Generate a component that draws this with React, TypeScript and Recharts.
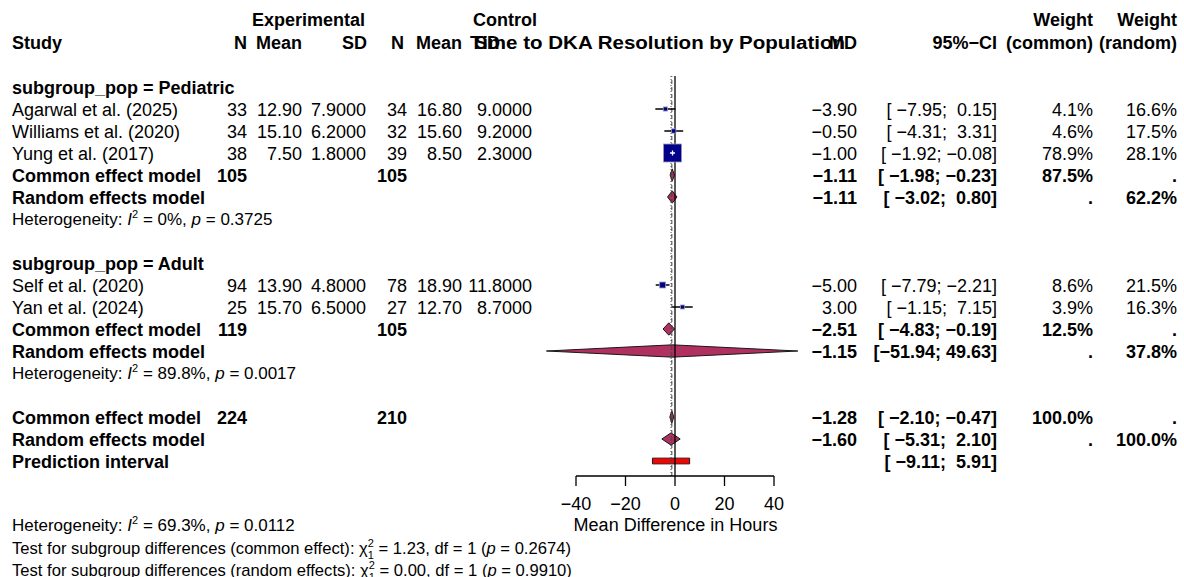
import React from "react";
import {
  ComposedChart,
  Scatter,
  XAxis,
  YAxis,
  ZAxis,
  ErrorBar,
  ReferenceLine,
  ReferenceArea,
} from "recharts";

const FONT = '"Liberation Sans", Arial, Helvetica, sans-serif';

// individual studies
const studyNames = ["Agarwal et al. (2025)", "Williams et al. (2020)", "Yung et al. (2017)", "Self et al. (2020)", "Yan et al. (2024)"];
const studyRows = [1, 2, 3, 9, 10];
const expN = ["33", "34", "38", "94", "25"];
const expMean = ["12.90", "15.10", "7.50", "13.90", "15.70"];
const expSD = ["7.9000", "6.2000", "1.8000", "4.8000", "6.5000"];
const ctlN = ["34", "32", "39", "78", "27"];
const ctlMean = ["16.80", "15.60", "8.50", "18.90", "12.70"];
const ctlSD = ["9.0000", "9.2000", "2.3000", "11.8000", "8.7000"];
const studyMD = [-3.9, -0.5, -1.0, -5.0, 3.0];
const studyLo = [-7.95, -4.31, -1.92, -7.79, -1.15];
const studyHi = [0.15, 3.31, -0.08, -2.21, 7.15];
const weightCommon = [4.1, 4.6, 78.9, 8.6, 3.9];
const weightRandom = [16.6, 17.5, 28.1, 21.5, 16.3];

// pooled estimates
const sumLabels = ["Common effect model", "Random effects model", "Common effect model", "Random effects model", "Common effect model", "Random effects model"];
const sumRows = [4, 5, 11, 12, 15, 16];
const sumExpN = ["105", "", "119", "", "224", ""];
const sumCtlN = ["105", "", "105", "", "210", ""];
const sumMD = [-1.11, -1.11, -2.51, -1.15, -1.28, -1.6];
const sumLo = [-1.98, -3.02, -4.83, -51.94, -2.1, -5.31];
const sumHi = [-0.23, 0.8, -0.19, 49.63, -0.47, 2.1];
const sumWc = ["87.5%", ".", "12.5%", ".", "100.0%", "."];
const sumWr = [".", "62.2%", ".", "37.8%", ".", "100.0%"];

const predRow = 17;
const predLo = -9.11;
const predHi = 5.91;

const groupLabels = ["subgroup_pop = Pediatric", "subgroup_pop = Adult"];
const groupRows = [0, 8];
const hetRows = [6, 13];
const hetI2 = ["0%", "89.8%"];
const hetP = ["0.3725", "0.0017"];

const xTicks = [-40, -20, 0, 20, 40];

const ROW_TOP = 87;
const ROW_H = 22;
const rowY = (k: number) => ROW_TOP + ROW_H * k;
const Y_DOMAIN: [number, number] = [-0.5, (476 - ROW_TOP) / ROW_H];

const minus = (s: string) => s.replace(/-/g, "\u2212");
const fmt = (v: number) => minus(v.toFixed(2));
const pad = (s: string, n: number) => s.padStart(n, " ");
const fmtCI = (lo: number, hi: number) => `[${pad(fmt(lo), 6)}; ${pad(fmt(hi), 5)}]`;

const studyData = studyNames.map((name, i) => ({
  name,
  md: studyMD[i],
  row: studyRows[i],
  w: weightCommon[i],
  err: [studyMD[i] - studyLo[i], studyHi[i] - studyMD[i]],
  plus: studyHi[i] - studyLo[i] < 3,
}));

const Square = (p: any) => {
  const side = p.size != null ? Math.sqrt(p.size) : (p.width || 0) * 0.886;
  const { cx, cy } = p;
  return (
    <g>
      <rect x={cx - side / 2} y={cy - side / 2} width={side} height={side} fill="#00008B" stroke="#9a9ab4" strokeWidth={0.8} />
      {p.payload && p.payload.plus && (
        <g stroke="#fff" strokeWidth={1.3}>
          <line x1={cx - 2.5} x2={cx + 2.5} y1={cy} y2={cy} />
          <line x1={cx} x2={cx} y1={cy - 2.5} y2={cy + 2.5} />
        </g>
      )}
    </g>
  );
};

const diamondShape = (lo: number, hi: number, est: number) => (p: any) => {
  const { x, y, width, height } = p;
  const xe = x + (width * (est - lo)) / (hi - lo);
  const pts = [
    [x, y + height / 2],
    [xe, y],
    [x + width, y + height / 2],
    [xe, y + height],
  ]
    .map((q) => q.join(","))
    .join(" ");
  return <polygon points={pts} fill="#B03060" stroke="#1a1a1a" strokeWidth={1} />;
};

type TProps = {
  x: number;
  y: number;
  anchor?: "start" | "end" | "middle";
  bold?: boolean;
  size?: number;
  children: React.ReactNode;
};

const T = ({ x, y, anchor = "start", bold = false, size = 18, children }: TProps) => (
  <text
    x={x}
    y={y}
    textAnchor={anchor}
    fontWeight={bold ? "bold" : "normal"}
    fontSize={size}
    fontFamily={FONT}
    fill="#000"
    xmlSpace="preserve"
    style={{ whiteSpace: "pre" }}
  >
    {children}
  </text>
);

const COL = { study: 12, eN: 247, eMean: 302, eSD: 366, cN: 407, cMean: 462, cSD: 532, md: 857, ci: 997, wc: 1093, wr: 1177 };
const BASE = 6.5;
const SMALL = 17;

const Het = ({ y, i2, p }: { y: number; i2: string; p: string }) => (
  <T x={12} y={y} size={SMALL}>
    {"Heterogeneity: "}
    <tspan fontStyle="italic">I</tspan>
    <tspan dy={-7} fontSize={11}>2</tspan>
    <tspan dy={7}>{` = ${i2}, `}</tspan>
    <tspan fontStyle="italic">p</tspan>
    {` = ${p}`}
  </T>
);

const SubTest = ({ y, kind, chi, p }: { y: number; kind: string; chi: string; p: string }) => (
  <T x={12} y={y} size={16.6}>
    {`Test for subgroup differences (${kind}): \u03c7`}
    <tspan dy={-7} fontSize={11}>2</tspan>
    <tspan dx={-6.1} dy={12} fontSize={11}>1</tspan>
    <tspan dy={-5}>{` = ${chi}, df = 1 (`}</tspan>
    <tspan fontStyle="italic">p</tspan>
    {` = ${p})`}
  </T>
);

const TableText = () => (
  <svg width={1184} height={577} style={{ position: "absolute", left: 0, top: 0, pointerEvents: "none" }}>
    {/* headings */}
    <T x={365} y={26} anchor="end" bold>Experimental</T>
    <T x={537} y={26} anchor="end" bold>Control</T>
    <T x={1093} y={26} anchor="end" bold>Weight</T>
    <T x={1177} y={26} anchor="end" bold>Weight</T>
    <T x={12} y={48.5} bold>Study</T>
    <T x={247} y={48.5} anchor="end" bold>N</T>
    <T x={302} y={48.5} anchor="end" bold>Mean</T>
    <T x={367} y={48.5} anchor="end" bold>SD</T>
    <T x={404} y={48.5} anchor="end" bold>N</T>
    <T x={462} y={48.5} anchor="end" bold>Mean</T>
    <T x={500} y={48.5} anchor="end" bold>SD</T>
    <text x={470} y={48.5} fontWeight="bold" fontSize={18} fontFamily={FONT} textLength={375} lengthAdjust="spacingAndGlyphs">
      Time to DKA Resolution by Population
    </text>
    <T x={857} y={48.5} anchor="end" bold>MD</T>
    <T x={997} y={48.5} anchor="end" bold>{"95%\u2212CI"}</T>
    <T x={1093} y={48.5} anchor="end" bold>(common)</T>
    <T x={1177} y={48.5} anchor="end" bold>(random)</T>

    {groupLabels.map((g, i) => (
      <T key={g} x={COL.study} y={rowY(groupRows[i]) + BASE} bold>{g}</T>
    ))}

    {studyNames.map((s, i) => {
      const y = rowY(studyRows[i]) + BASE;
      return (
        <g key={s}>
          <T x={COL.study} y={y}>{s}</T>
          <T x={COL.eN} y={y} anchor="end">{expN[i]}</T>
          <T x={COL.eMean} y={y} anchor="end">{expMean[i]}</T>
          <T x={COL.eSD} y={y} anchor="end">{expSD[i]}</T>
          <T x={COL.cN} y={y} anchor="end">{ctlN[i]}</T>
          <T x={COL.cMean} y={y} anchor="end">{ctlMean[i]}</T>
          <T x={COL.cSD} y={y} anchor="end">{ctlSD[i]}</T>
          <T x={COL.md} y={y} anchor="end">{fmt(studyMD[i])}</T>
          <T x={COL.ci} y={y} anchor="end">{fmtCI(studyLo[i], studyHi[i])}</T>
          <T x={COL.wc} y={y} anchor="end">{weightCommon[i].toFixed(1) + "%"}</T>
          <T x={COL.wr} y={y} anchor="end">{weightRandom[i].toFixed(1) + "%"}</T>
        </g>
      );
    })}

    {sumLabels.map((s, i) => {
      const y = rowY(sumRows[i]) + BASE;
      return (
        <g key={i}>
          <T x={COL.study} y={y} bold>{s}</T>
          <T x={COL.eN} y={y} anchor="end" bold>{sumExpN[i]}</T>
          <T x={COL.cN} y={y} anchor="end" bold>{sumCtlN[i]}</T>
          <T x={COL.md} y={y} anchor="end" bold>{fmt(sumMD[i])}</T>
          <T x={COL.ci} y={y} anchor="end" bold>{fmtCI(sumLo[i], sumHi[i])}</T>
          <T x={COL.wc} y={y} anchor="end" bold>{sumWc[i]}</T>
          <T x={COL.wr} y={y} anchor="end" bold>{sumWr[i]}</T>
        </g>
      );
    })}

    <T x={COL.study} y={rowY(predRow) + BASE} bold>Prediction interval</T>
    <T x={COL.ci} y={rowY(predRow) + BASE} anchor="end" bold>{fmtCI(predLo, predHi)}</T>

    {hetRows.map((r, i) => (
      <Het key={r} y={rowY(r) + 6} i2={hetI2[i]} p={hetP[i]} />
    ))}

    <T x={675.5} y={530.5} anchor="middle">Mean Difference in Hours</T>

    <Het y={531} i2="69.3%" p="0.0112" />
    <SubTest y={554} kind="common effect" chi="1.23" p="0.2674" />
    <SubTest y={576} kind="random effects" chi="0.00" p="0.9910" />
  </svg>
);

export default function App() {
  return (
    <div style={{ position: "absolute", left: 0, top: 0, width: 1184, height: 577, background: "#fff" }}>
      <ComposedChart width={1184} height={577} margin={{ top: 76, right: 360.5, bottom: 71, left: 526.5 }}>
        <XAxis
          type="number"
          dataKey="md"
          domain={[-60, 60]}
          ticks={xTicks}
          interval={0}
          axisLine={false}
          tickSize={10}
          tickMargin={11}
          height={30}
          allowDataOverflow
          tick={{ fill: "#000", fontSize: 18, fontFamily: FONT }}
          tickLine={{ stroke: "#000", strokeWidth: 1.3 }}
          tickFormatter={(v: number) => minus(String(v))}
        />
        <YAxis type="number" dataKey="row" domain={Y_DOMAIN} reversed hide width={0} allowDataOverflow />
        <ZAxis type="number" dataKey="w" domain={[0, 100]} range={[0, 410]} />

        <ReferenceLine x={-1.28} stroke="#444" strokeWidth={1} strokeDasharray="4 3" ifOverflow="visible" />
        <ReferenceLine x={-1.6} stroke="#444" strokeWidth={1} strokeDasharray="1 2" ifOverflow="visible" />
        <ReferenceLine x={0} stroke="#000" strokeWidth={1.3} ifOverflow="visible" />
        <ReferenceLine
          segment={[
            { x: -40, y: Y_DOMAIN[1] },
            { x: 40, y: Y_DOMAIN[1] },
          ]}
          stroke="#000"
          strokeWidth={1.3}
          ifOverflow="visible"
        />

        {sumRows.map((r, i) => (
          <ReferenceArea
            key={`d${i}`}
            x1={sumLo[i]}
            x2={sumHi[i]}
            y1={r - 0.28}
            y2={r + 0.28}
            ifOverflow="visible"
            shape={diamondShape(sumLo[i], sumHi[i], sumMD[i])}
          />
        ))}
        <ReferenceArea
          x1={predLo}
          x2={predHi}
          y1={predRow - 0.13}
          y2={predRow + 0.13}
          ifOverflow="visible"
          fill="#FF0000"
          fillOpacity={1}
          stroke="#1a1a1a"
          strokeWidth={1}
        />

        <Scatter data={studyData} shape={Square} isAnimationActive={false}>
          <ErrorBar dataKey="err" direction="x" width={0} stroke="#000" strokeWidth={1.5} />
        </Scatter>
      </ComposedChart>
      <TableText />
    </div>
  );
}
